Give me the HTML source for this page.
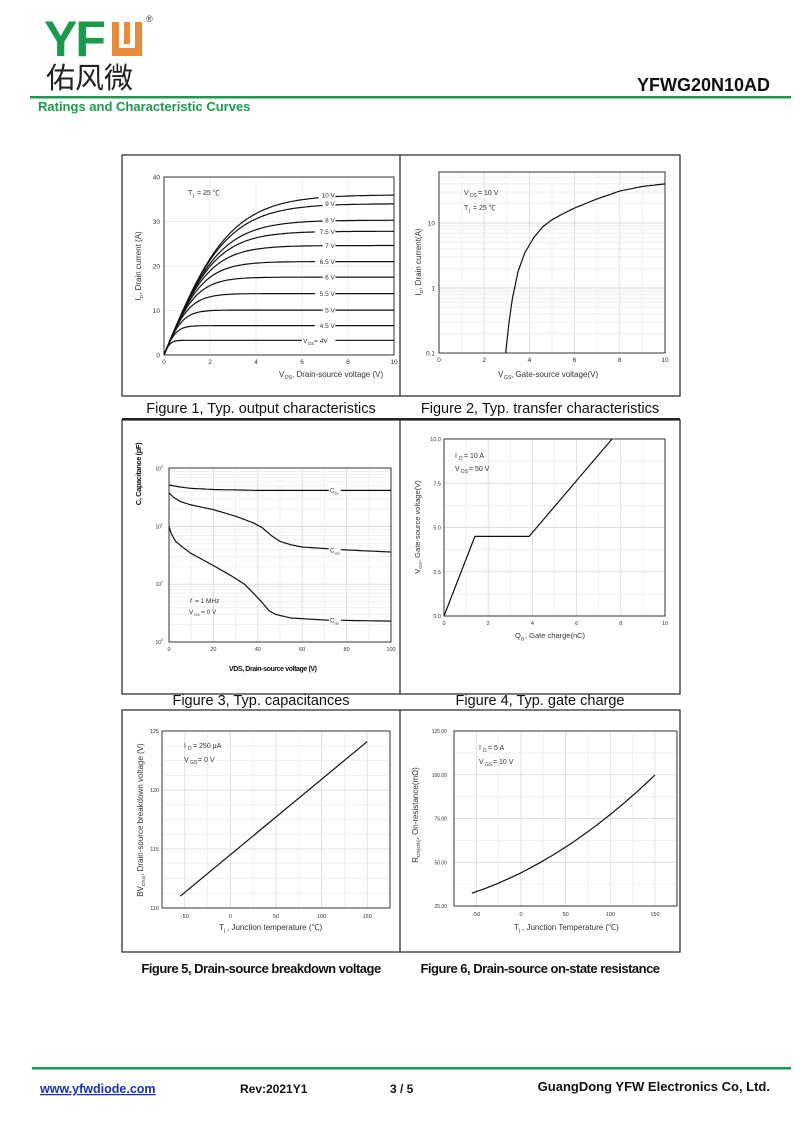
<!DOCTYPE html>
<html><head><meta charset="utf-8"><style>
html,body{margin:0;padding:0;background:#fff;}
svg{display:block;}
text{font-family:"Liberation Sans","Noto Sans CJK SC",sans-serif;}
</style></head><body>
<svg id="s" width="800" height="1130" xmlns="http://www.w3.org/2000/svg">
<text x="44" y="56" font-size="50" font-weight="bold" fill="#1a9a4a" letter-spacing="-2">YF</text>
<rect x="112" y="22" width="30" height="34" fill="#e98b3a"/>
<rect x="119" y="22" width="5" height="26" fill="#fff"/><rect x="130" y="22" width="5" height="26" fill="#fff"/><rect x="119" y="44" width="16" height="4" fill="#fff"/>
<text x="146" y="22" font-size="9" fill="#333">®</text>
<text x="46" y="88" font-size="29" fill="#222" font-family="Noto Sans CJK SC,sans-serif">佑风微</text>
<text x="770" y="91" font-size="18" font-weight="bold" text-anchor="end" fill="#111">YFWG20N10AD</text>
<rect x="30" y="96" width="761" height="2.5" fill="#1a9a4a"/>
<text x="38" y="111" font-size="13" font-weight="bold" fill="#1a9a4a">Ratings and Characteristic Curves</text>
<rect x="32" y="1067" width="759" height="2.5" fill="#1a9a4a"/>
<text x="40" y="1093" font-size="12.5" font-weight="bold" fill="#1a2fb0" text-decoration="underline">www.yfwdiode.com</text>
<text x="240" y="1093" font-size="12" font-weight="bold" fill="#111">Rev:2021Y1</text>
<text x="390" y="1093" font-size="12" font-weight="bold" fill="#111">3 / 5</text>
<text x="770" y="1091" font-size="13" font-weight="bold" fill="#111" text-anchor="end">GuangDong YFW Electronics Co, Ltd.</text>
<g fill="none" stroke="#222" stroke-width="1.2">
<rect x="122" y="155" width="558" height="241"/><line x1="400" y1="155" x2="400" y2="396"/>
<line x1="122" y1="419" x2="680" y2="419" stroke-width="2"/>
<rect x="122" y="420" width="558" height="274"/><line x1="400" y1="420" x2="400" y2="694"/>
<rect x="122" y="710" width="558" height="242"/><line x1="400" y1="710" x2="400" y2="952"/>
</g>
<g font-size="14.5" fill="#111" text-anchor="middle" font-family="DejaVu Sans,sans-serif">
<text x="261" y="413">Figure 1, Typ. output characteristics</text>
<text x="540" y="413">Figure 2, Typ. transfer characteristics</text>
<text x="261" y="705">Figure 3, Typ. capacitances</text>
<text x="540" y="705">Figure 4, Typ. gate charge</text>
<text x="261" y="973" font-size="13" font-weight="bold" letter-spacing="-0.5">Figure 5, Drain-source breakdown voltage</text>
<text x="540" y="973" font-size="13" font-weight="bold" letter-spacing="-0.5">Figure 6, Drain-source on-state resistance</text>
</g>
<g id="plots"></g>
</svg>
<script>
const NS="http://www.w3.org/2000/svg",G=document.getElementById("plots");
function el(t,a,txt){const e=document.createElementNS(NS,t);for(const k in a)e.setAttribute(k,a[k]);if(txt!==undefined)e.textContent=txt;G.appendChild(e);return e;}
function line(x1,y1,x2,y2,c,w){el("line",{x1,y1,x2,y2,stroke:c,"stroke-width":w||1});}
function txt(x,y,s,o){o=o||{};const a=Object.assign({x,y,"font-size":7,fill:"#333","font-family":"DejaVu Sans,sans-serif"},o);el("text",a,s);}
function path(pts,w){el("path",{d:"M"+pts.map(p=>p[0].toFixed(1)+","+p[1].toFixed(1)).join("L"),fill:"none",stroke:"#111","stroke-width":w||1.2});}
function frame(L,T,R,B){el("rect",{x:L,y:T,width:R-L,height:B-T,fill:"none",stroke:"#333","stroke-width":1});}
function ylab(x,y,main,sub,rest,fs){const e=document.createElementNS(NS,"text");e.setAttribute("transform","translate("+x+","+y+") rotate(-90)");e.setAttribute("text-anchor","middle");e.setAttribute("font-size",fs||8);e.setAttribute("fill","#333");e.setAttribute("font-family","DejaVu Sans,sans-serif");
 const a=document.createElementNS(NS,"tspan");a.textContent=main;const b=document.createElementNS(NS,"tspan");b.textContent=sub;b.setAttribute("font-size",(fs||8)*0.62);b.setAttribute("dy","2");const c=document.createElementNS(NS,"tspan");c.textContent=rest;c.setAttribute("dy","-2");e.append(a,b,c);G.appendChild(e);}
// Fig1
{const L=164,T=177,R=394,B=355,X=v=>L+v*23,Y=i=>B-i*4.45;
for(let v=2;v<10;v+=2)line(X(v),T,X(v),B,"#e4e4e4",0.7);for(let i=10;i<40;i+=10)line(L,Y(i),R,Y(i),"#e4e4e4",0.7);
frame(L,T,R,B);
for(let v=0;v<=10;v+=2)txt(X(v),B+9,v,{"text-anchor":"middle","font-size":6.5});
for(let i=0;i<=40;i+=10)txt(L-4,Y(i)+2.5,i,{"text-anchor":"end","font-size":6.5});
const sat=[[36,"10 V"],[34,"9 V"],[30.3,"8 V"],[27.8,"7.5 V"],[24.6,"7 V"],[21,"6.5 V"],[17.5,"6 V"],[13.8,"5.5 V"],[10.1,"5 V"],[6.6,"4.5 V"],[3.3,""]];
sat.forEach(s=>{const pts=[];for(let v=0;v<=10.001;v+=0.1){let i=s[0]*Math.tanh(v*12.5/s[0]);pts.push([X(v),Y(i)]);}path(pts);
 if(s[1]){const w=s[1].length*3.9+1;el("rect",{x:X(7.45)-w,y:Y(s[0])-4,width:w,height:8,fill:"#fff"});txt(X(7.45)-0.5,Y(s[0])+2.5,s[1],{"text-anchor":"end","font-size":6.5});}});
el("rect",{x:X(6.0),y:Y(3.3)-5,width:X(7.45)-X(6.0),height:10,fill:"#fff"});
txt(X(6.05),Y(3.3)+2.5,"V",{"font-size":6.5});txt(X(6.05)+4.5,Y(3.3)+4.5,"GS",{"font-size":4.5});txt(X(6.05)+11,Y(3.3)+2.5,"= 4V",{"font-size":6.5});
txt(188,195,"T");txt(193,197,"j",{"font-size":5});txt(197,195,"= 25 ℃");
txt(279,377,"V",{"font-size":8});txt(285,379,"DS",{"font-size":5});txt(292,377,", Drain-source voltage (V)",{"font-size":8});
ylab(141,266,"I","D",", Drain current (A)");}
// Fig2
{const L=439,T=172,R=665,B=353,X=v=>L+v*22.6,Y=i=>B-(Math.log10(i)+1)*65;
for(let d=0.1;d<=10;d*=10)for(let m=1;m<10;m++){const y=Y(d*m);if(y>T)line(L,y,R,y,m==1?"#ccc":"#e8e8e8",0.7);}
for(let v=1;v<10;v++)line(X(v),T,X(v),B,v%2?"#ececec":"#d5d5d5",0.7);
frame(L,T,R,B);
for(let v=0;v<=10;v+=2)txt(X(v),B+9,v,{"text-anchor":"middle","font-size":6.5});
[["0.1",0.1],["1",1],["10",10]].forEach(a=>txt(L-4,Y(a[1])+2.5,a[0],{"text-anchor":"end","font-size":6.5}));
const p=[[2.95,0.1],[3.1,0.3],[3.25,0.7],[3.5,1.8],[3.8,3.5],[4.2,6],[4.6,8.8],[5,11.2],[5.5,14],[6,17],[7,23.5],[8,31],[9,36.5],[10,40]];
const pts=[];for(let k=0;k<p.length-1;k++){for(let t=0;t<1;t+=0.1){const v=p[k][0]+(p[k+1][0]-p[k][0])*t,li=Math.log10(p[k][1])+(Math.log10(p[k+1][1])-Math.log10(p[k][1]))*t;pts.push([X(v),Y(Math.pow(10,li))]);}}pts.push([X(10),Y(40)]);path(pts);
txt(464,195,"V");txt(470,197,"DS",{"font-size":5});txt(478,195,"= 10 V");txt(464,210,"T");txt(469,212,"j",{"font-size":5});txt(473,210,"= 25 ℃");
txt(498,377,"V",{"font-size":8});txt(504,379,"GS",{"font-size":5});txt(511,377,", Gate-source voltage(V)",{"font-size":8});
ylab(421,262,"I","D",", Drain current(A)");}
// Fig3
{const L=169,T=468,R=391,B=642,X=v=>L+v*2.22,Y=c=>B-Math.log10(c)*57.8;
for(let d=1;d<1000;d*=10)for(let m=1;m<10;m++){const y=Y(d*m);if(y<B)line(L,y,R,y,m==1?"#ccc":"#ebebeb",0.7);}
for(let v=10;v<100;v+=10)line(X(v),T,X(v),B,v%20?"#ececec":"#d5d5d5",0.7);
frame(L,T,R,B);
for(let v=0;v<=100;v+=20)txt(X(v),B+9,v,{"text-anchor":"middle","font-size":5.5});
for(let e=0;e<=3;e++){txt(L-8,Y(Math.pow(10,e))+2,"10",{"text-anchor":"end","font-size":5});txt(L-8,Y(Math.pow(10,e))-1,e,{"font-size":3.5});}
function cur(p){const pts=[];for(let k=0;k<p.length-1;k++)for(let t=0;t<1;t+=0.1){const v=p[k][0]+(p[k+1][0]-p[k][0])*t,l=Math.log10(p[k][1])+(Math.log10(p[k+1][1])-Math.log10(p[k][1]))*t;pts.push([X(v),Y(Math.pow(10,l))]);}const q=p[p.length-1];pts.push([X(q[0]),Y(q[1])]);path(pts);}
cur([[0,520],[5,480],[10,455],[20,435],[40,420],[60,420],[100,420]]);
cur([[0,380],[2,320],[5,270],[10,235],[20,195],[30,150],[38,115],[42,95],[46,70],[50,55],[55,48],[60,44],[80,39],[100,36]]);
cur([[0,100],[1,75],[3,55],[6,44],[10,34],[20,21],[28,14],[34,10],[38,7],[42,4.8],[45,3.5],[48,3],[55,2.6],[70,2.4],[100,2.3]]);
[["iss",420],["oss",38],["rss",2.35]].forEach(a=>{el("rect",{x:X(72),y:Y(a[1])-6,width:12,height:9,fill:"#fff"});txt(X(72)+1,Y(a[1])+2,"C",{"font-size":6.5});txt(X(72)+5.5,Y(a[1])+4,a[0],{"font-size":3.5});});
txt(190,603,"f",{"font-style":"italic","font-size":6.5});txt(195,603,"= 1 MHz",{"font-size":6.5});txt(189,614,"V",{"font-size":6.5});txt(194,616,"GS",{"font-size":4});txt(201,614,"= 0 V",{"font-size":6.5});
txt(229,671,"VDS, Drain-source voltage (V)",{"font-size":7,"font-weight":"bold",fill:"#111","letter-spacing":"-0.4"});
el("text",{transform:"translate(141,474) rotate(-90)","text-anchor":"middle","font-size":7.5,"font-weight":"bold",fill:"#111","font-family":"DejaVu Sans,sans-serif","letter-spacing":"-0.4"},"C, Capacitance (pF)");}
// Fig4
{const L=444,T=439,R=665,B=616,X=q=>L+q*22.1,Y=v=>B-v*17.7;
for(let q=1;q<10;q++)line(X(q),T,X(q),B,q%2?"#ececec":"#d5d5d5",0.7);
for(let v=1.25;v<10;v+=1.25)line(L,Y(v),R,Y(v),(v*4)%10?"#ececec":"#d5d5d5",0.7);
frame(L,T,R,B);
for(let q=0;q<=10;q+=2)txt(X(q),B+9,q,{"text-anchor":"middle","font-size":5.5});
["0.0","2.5","5.0","7.5","10.0"].forEach((s,k)=>txt(L-3,Y(k*2.5)+2,s,{"text-anchor":"end","font-size":5.5}));
path([[X(0),Y(0)],[X(1.4),Y(4.5)],[X(3.85),Y(4.5)],[X(7.6),Y(10)]]);
txt(455,458,"I");txt(459,460,"D",{"font-size":5});txt(464,458,"= 10 A");txt(455,471,"V");txt(461,473,"DS",{"font-size":5});txt(469,471,"= 50 V");
txt(515,638,"Q",{"font-size":7.5});txt(521,640,"g",{"font-size":5});txt(525,638,", Gate charge(nC)",{"font-size":7.5});
ylab(420,527,"V","GS",", Gate-source voltage(V)",7.5);}
// Fig5
{const L=162,T=731,R=390,B=908,X=t=>L+(t+75)*0.912,Y=b=>B-(b-110)*11.8;
for(let t=-50;t<=150;t+=25)line(X(t),T,X(t),B,t%50?"#ececec":"#d5d5d5",0.7);
for(let b=111.25;b<125;b+=1.25)line(L,Y(b),R,Y(b),(b%5)?"#ececec":"#d5d5d5",0.7);
frame(L,T,R,B);
for(let t=-50;t<=150;t+=50)txt(X(t),B+10,t,{"text-anchor":"middle","font-size":5.5});
for(let b=110;b<=125;b+=5)txt(L-3,Y(b)+2,b,{"text-anchor":"end","font-size":5.5});
path([[X(-55),Y(111)],[X(150),Y(124.1)]]);
txt(184,748,"I");txt(188,750,"D",{"font-size":5});txt(193,748,"= 250 μA");txt(184,762,"V");txt(190,764,"GS",{"font-size":5});txt(198,762,"= 0 V");
txt(219,930,"T",{"font-size":8});txt(224,932,"j",{"font-size":5});txt(227,930,", Junction temperature (℃)",{"font-size":8});
ylab(143,820,"BV","DSS",", Drain-source breakdown voltage (V)");}
// Fig6
{const L=454,T=731,R=677,B=906,X=t=>L+(t+75)*0.893,Y=r=>B-(r-25)*1.75;
for(let t=-50;t<=175;t+=25)line(X(t),T,X(t),B,t%50?"#ececec":"#d5d5d5",0.7);
for(let r=37.5;r<125;r+=12.5)line(L,Y(r),R,Y(r),(r%25)?"#ececec":"#d5d5d5",0.7);
frame(L,T,R,B);
for(let t=-50;t<=150;t+=50)txt(X(t),B+10,t,{"text-anchor":"middle","font-size":5.5});
for(let r=25;r<=125;r+=25)txt(L-7,Y(r)+2,r.toFixed(2),{"text-anchor":"end","font-size":5});
const p=[];for(let t=-55;t<=150;t+=5){const r=44+0.255*t+0.00078*t*t;p.push([X(t),Y(r)]);}path(p);
txt(479,750,"I");txt(483,752,"D",{"font-size":5});txt(488,750,"= 5 A");txt(479,764,"V");txt(485,766,"GS",{"font-size":5});txt(493,764,"= 10 V");
txt(514,930,"T",{"font-size":8});txt(519,932,"j",{"font-size":5});txt(522,930,", Junction Temperature (℃)",{"font-size":8});
ylab(418,815,"R","DS(ON)",", On-resistance(mΩ)");}
</script>
</body></html>
